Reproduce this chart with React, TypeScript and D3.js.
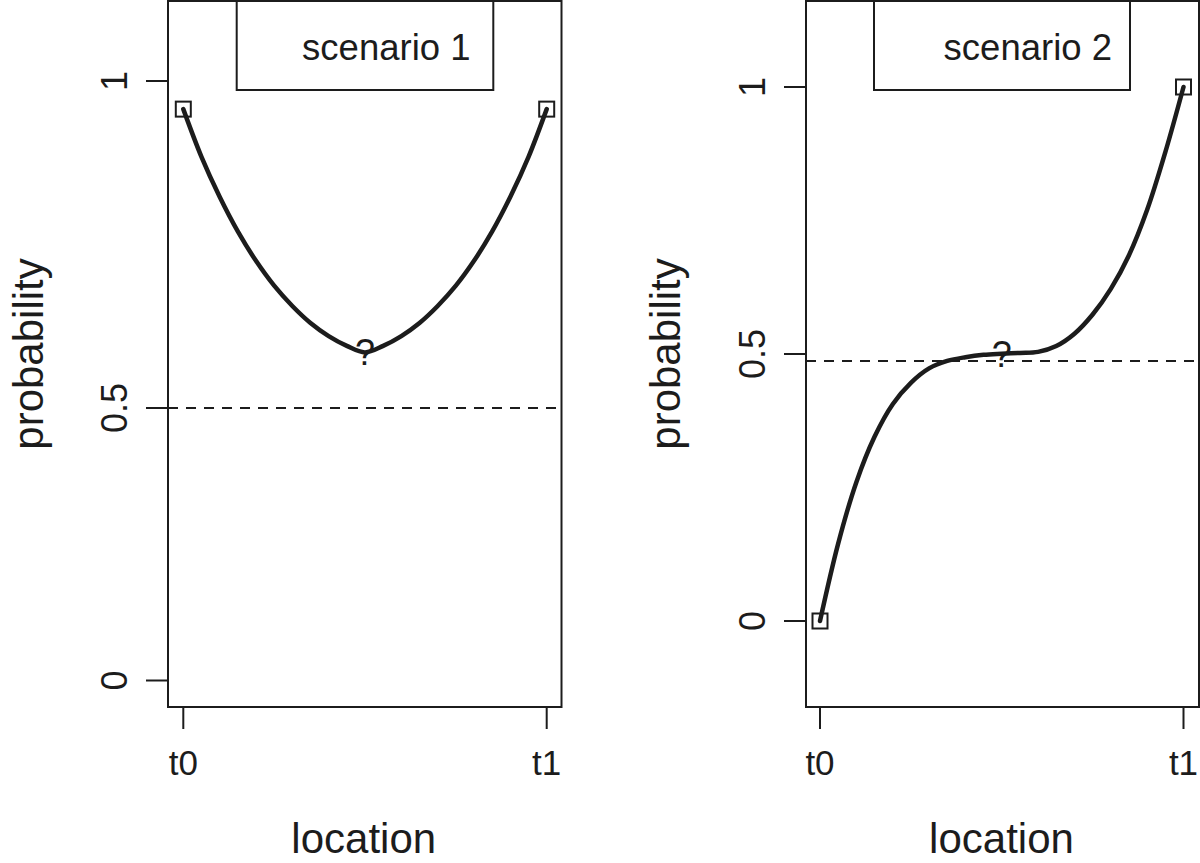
import React from "react";
import * as d3 from "d3";

// ---- data ----
const xTickLabels = ["t0", "t1"];
const xTickValues = [0, 1];
const yTickValues = [0, 0.5, 1];
const yTickLabels = ["0", "0.5", "1"];
const legendLabels = ["scenario 1", "scenario 2"];
const thresholds = [0.5, 0.487];
const axisTitleX = "location";
const axisTitleY = "probability";
const unknownMark = "?";

// scenario 1: U-shaped curve between two known endpoints
const scenario1Loc = [0, 0.05, 0.1, 0.15, 0.2, 0.25, 0.3, 0.35, 0.4, 0.45, 0.5, 0.55, 0.6, 0.65, 0.7, 0.75, 0.8, 0.85, 0.9, 0.95, 1];
const scenario1Prob = [0.957, 0.884, 0.823, 0.77, 0.725, 0.687, 0.656, 0.63, 0.61, 0.595, 0.585, 0.595, 0.61, 0.63, 0.656, 0.687, 0.725, 0.77, 0.823, 0.884, 0.957];
const scenario1KnownLoc = [0, 1];
const scenario1KnownProb = [0.957, 0.957];

// scenario 2: S-shaped curve from 0 to 1
const scenario2Loc = [0, 0.05, 0.1, 0.15, 0.2, 0.25, 0.3, 0.35, 0.4, 0.45, 0.5, 0.55, 0.6, 0.65, 0.7, 0.75, 0.8, 0.85, 0.9, 0.95, 1];
const scenario2Prob = [0, 0.145, 0.26, 0.345, 0.406, 0.446, 0.473, 0.487, 0.494, 0.4985, 0.5005, 0.502, 0.504, 0.515, 0.538, 0.574, 0.622, 0.685, 0.77, 0.878, 1];
const scenario2KnownLoc = [0, 1];
const scenario2KnownProb = [0, 1];

const FONT = "'Liberation Sans', Arial, Helvetica, sans-serif";
const INK = "#1c1c1c";

type PanelSpec = {
  box: { left: number; right: number; top: number; bottom: number };
  x: d3.ScaleLinear<number, number>;
  y: d3.ScaleLinear<number, number>;
  loc: number[];
  prob: number[];
  knownLoc: number[];
  knownProb: number[];
  threshold: number;
  legend: string;
  legendBox: { left: number; right: number; bottom: number };
  legendTextRight: number;
  tickLabelX: number;
  titleX: number;
};

const panels: PanelSpec[] = [
  {
    box: { left: 168, right: 561.5, top: 1, bottom: 707 },
    x: d3.scaleLinear().domain([0, 1]).range([183.3, 546.7]),
    y: d3.scaleLinear().domain([0, 0.5, 1]).range([680.5, 408, 81]),
    loc: scenario1Loc,
    prob: scenario1Prob,
    knownLoc: scenario1KnownLoc,
    knownProb: scenario1KnownProb,
    threshold: thresholds[0],
    legend: legendLabels[0],
    legendBox: { left: 236.7, right: 493.3, bottom: 90 },
    legendTextRight: 470.5,
    tickLabelX: 127,
    titleX: 43,
  },
  {
    box: { left: 806, right: 1199, top: 1, bottom: 707 },
    x: d3.scaleLinear().domain([0, 1]).range([820, 1183.5]),
    y: d3.scaleLinear().domain([0, 1]).range([621, 87]),
    loc: scenario2Loc,
    prob: scenario2Prob,
    knownLoc: scenario2KnownLoc,
    knownProb: scenario2KnownProb,
    threshold: thresholds[1],
    legend: legendLabels[1],
    legendBox: { left: 874, right: 1130, bottom: 90 },
    legendTextRight: 1112,
    tickLabelX: 765,
    titleX: 680,
  },
];

function Panel({ p }: { p: PanelSpec }) {
  const { box, x, y } = p;
  const pts: [number, number][] = p.loc.map((l, i) => [l, p.prob[i]]);
  const line = d3
    .line<[number, number]>()
    .x((d) => x(d[0]))
    .y((d) => y(d[1]))
    .curve(d3.curveCatmullRom.alpha(0.5));
  const midIdx = p.loc.findIndex((l) => l >= 0.5);
  const qx = x(0.5);
  const qy = y(p.prob[midIdx]);
  const sq = 15;
  return (
    <g>
      {/* threshold */}
      <line
        x1={box.left}
        x2={box.right}
        y1={y(p.threshold)}
        y2={y(p.threshold)}
        stroke={INK}
        strokeWidth={2}
        strokeDasharray="10,8"
      />
      {/* question mark */}
      <text x={qx} y={qy + 13} textAnchor="middle" fontFamily={FONT} fontSize={36} fill={INK}>
        {unknownMark}
      </text>
      {/* curve */}
      <path d={line(pts) || ""} fill="none" stroke={INK} strokeWidth={4.5} strokeLinecap="round" />
      {/* known points */}
      {p.knownLoc.map((l, i) => (
        <rect
          key={i}
          x={x(l) - sq / 2}
          y={y(p.knownProb[i]) - sq / 2}
          width={sq}
          height={sq}
          fill="none"
          stroke={INK}
          strokeWidth={2}
        />
      ))}
      {/* box */}
      <rect
        x={box.left}
        y={box.top}
        width={box.right - box.left}
        height={box.bottom - box.top}
        fill="none"
        stroke={INK}
        strokeWidth={2}
      />
      {/* legend */}
      <rect
        x={p.legendBox.left}
        y={box.top}
        width={p.legendBox.right - p.legendBox.left}
        height={p.legendBox.bottom - box.top}
        fill="white"
        stroke={INK}
        strokeWidth={2}
      />
      <text
        x={p.legendTextRight}
        y={60}
        textAnchor="end"
        fontFamily={FONT}
        fontSize={36.5}
        fill={INK}
      >
        {p.legend}
      </text>
      {/* y axis */}
      {yTickValues.map((v, i) => (
        <g key={i}>
          <line x1={box.left - 22} x2={box.left} y1={y(v)} y2={y(v)} stroke={INK} strokeWidth={2} />
          <text
            transform={`translate(${p.tickLabelX},${y(v)}) rotate(-90)`}
            textAnchor="middle"
            fontFamily={FONT}
            fontSize={36}
            fill={INK}
          >
            {yTickLabels[i]}
          </text>
        </g>
      ))}
      {/* x axis */}
      {xTickValues.map((v, i) => (
        <g key={i}>
          <line x1={x(v)} x2={x(v)} y1={box.bottom} y2={box.bottom + 22} stroke={INK} strokeWidth={2} />
          <text x={x(v)} y={775} textAnchor="middle" fontFamily={FONT} fontSize={35} fill={INK}>
            {xTickLabels[i]}
          </text>
        </g>
      ))}
      <text
        x={(box.left + box.right) / 2 - 1}
        y={853}
        textAnchor="middle"
        fontFamily={FONT}
        fontSize={42}
        fill={INK}
      >
        {axisTitleX}
      </text>
      <text
        transform={`translate(${p.titleX},${(box.top + box.bottom) / 2}) rotate(-90)`}
        textAnchor="middle"
        fontFamily={FONT}
        fontSize={42}
        fill={INK}
      >
        {axisTitleY}
      </text>
    </g>
  );
}

export default function App() {
  return (
    <svg
      width={1200}
      height={863}
      viewBox="0 0 1200 863"
      style={{ position: "absolute", left: 0, top: 0, background: "white" }}
    >
      <rect x={0} y={0} width={1200} height={863} fill="white" />
      {panels.map((p, i) => (
        <Panel key={i} p={p} />
      ))}
    </svg>
  );
}
